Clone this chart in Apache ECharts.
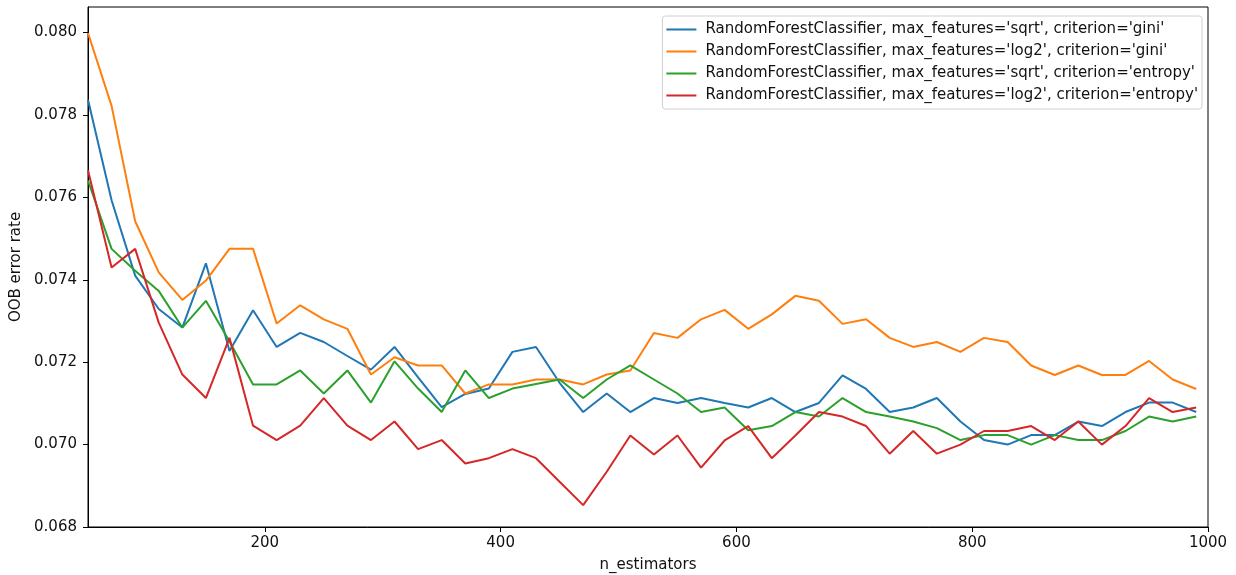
<!DOCTYPE html>
<html>
<head>
<meta charset="utf-8">
<script src="https://cdn.jsdelivr.net/npm/echarts@6/dist/echarts.min.js"></script>
<style>html,body{margin:0;padding:0;background:#fff;}#c{width:1236px;height:575px;}</style>
</head>
<body>
<div id="c"></div>
<script>
const nEstimators = [];
for (let n = 50; n <= 990; n += 20) nEstimators.push(n);

const seriesNames = [
  "RandomForestClassifier, max_features='sqrt', criterion='gini'",
  "RandomForestClassifier, max_features='log2', criterion='gini'",
  "RandomForestClassifier, max_features='sqrt', criterion='entropy'",
  "RandomForestClassifier, max_features='log2', criterion='entropy'"
];

const sqrtGini = [0.07837,0.07593,0.07410,0.07329,0.07284,0.07440,0.07227,0.07326,0.07237,0.07271,0.07249,0.07215,0.07182,
  0.07237,0.07163,0.07091,0.07123,0.07136,0.07225,0.07237,0.07150,0.07079,0.07124,0.07079,0.07113,
  0.07101,0.07113,0.07101,0.07090,0.07113,0.07079,0.07101,0.07168,0.07135,0.07079,0.07090,0.07113,
  0.07056,0.07011,0.07000,0.07023,0.07023,0.07056,0.07045,0.07079,0.07102,0.07102,0.07079];

const log2Gini = [0.07999,0.07822,0.07542,0.07418,0.07351,0.07398,0.07475,0.07475,0.07294,0.07338,0.07304,0.07281,0.07170,
  0.07212,0.07192,0.07192,0.07124,0.07146,0.07146,0.07158,0.07158,0.07146,0.07170,0.07180,0.07271,
  0.07259,0.07304,0.07327,0.07281,0.07316,0.07361,0.07349,0.07293,0.07304,0.07259,0.07237,0.07249,
  0.07225,0.07259,0.07249,0.07192,0.07169,0.07192,0.07169,0.07169,0.07203,0.07158,0.07135];

const sqrtEntropy = [0.07641,0.07475,0.07422,0.07373,0.07284,0.07349,0.07250,0.07146,0.07146,0.07180,0.07124,0.07180,0.07102,
  0.07202,0.07136,0.07079,0.07180,0.07113,0.07136,0.07147,0.07158,0.07113,0.07158,0.07192,0.07158,
  0.07124,0.07079,0.07090,0.07035,0.07045,0.07079,0.07068,0.07113,0.07079,0.07068,0.07056,0.07040,
  0.07011,0.07023,0.07023,0.07000,0.07023,0.07011,0.07011,0.07033,0.07068,0.07056,0.07068];

const log2Entropy = [0.07666,0.07430,0.07475,0.07296,0.07170,0.07113,0.07259,0.07046,0.07011,0.07046,0.07113,0.07046,0.07011,
  0.07056,0.06989,0.07011,0.06954,0.06967,0.06989,0.06967,0.06910,0.06853,0.06934,0.07022,0.06976,
  0.07022,0.06944,0.07010,0.07045,0.06967,0.07022,0.07079,0.07068,0.07045,0.06978,0.07033,0.06978,
  0.07000,0.07033,0.07033,0.07045,0.07011,0.07056,0.07000,0.07045,0.07113,0.07079,0.07090];

const xTicks = [200, 400, 600, 800, 1000];
const yTicks = [0.068, 0.070, 0.072, 0.074, 0.076, 0.078, 0.080];
const colors = ['#1f77b4', '#ff7f0e', '#2ca02c', '#d62728'];
const allValues = [sqrtGini, log2Gini, sqrtEntropy, log2Entropy];

const font = 'DejaVu Sans';
const chart = echarts.init(document.getElementById('c'), null, {renderer: 'canvas'});
chart.setOption({
  animation: false,
  color: colors,
  grid: {left: 88, right: 28, top: 7, bottom: 48, outerBoundsMode: 'none', containLabel: false,
    show: true, borderColor: '#000', borderWidth: 1, backgroundColor: 'transparent'},
  legend: {
    orient: 'vertical', right: 34, top: 16,
    data: seriesNames,
    icon: 'rect', itemWidth: 30, itemHeight: 2,
    itemGap: 5,
    padding: [5, 4, 5, 4],
    backgroundColor: '#fff', borderColor: '#d0d0d0', borderWidth: 1, borderRadius: 3,
    textStyle: {fontFamily: font, fontSize: 15, color: '#111', lineHeight: 17, padding: [0, 0, 0, 4]}
  },
  xAxis: {
    type: 'value', min: 50, max: 1000,
    name: 'n_estimators', nameLocation: 'middle', nameGap: 31,
    nameTextStyle: {fontFamily: font, fontSize: 15, color: '#111'},
    axisLine: {show: true, onZero: false, lineStyle: {color: '#000', width: 1}},
    axisTick: {show: true, length: 5, lineStyle: {color: '#000'}, customValues: xTicks},
    axisLabel: {fontFamily: font, fontSize: 15, color: '#111', margin: 9, customValues: xTicks,
      formatter: v => String(v)},
    splitLine: {show: false}
  },
  yAxis: {
    type: 'value', min: 0.068, max: 0.08062,
    name: 'OOB error rate', nameLocation: 'middle', nameGap: 56, nameRotate: 90,
    nameTextStyle: {fontFamily: font, fontSize: 15, color: '#111'},
    axisLine: {show: true, onZero: false, lineStyle: {color: '#000', width: 1}},
    axisTick: {show: true, length: 5, lineStyle: {color: '#000'}, customValues: yTicks},
    axisLabel: {fontFamily: font, fontSize: 15, color: '#111', margin: 11, customValues: yTicks,
      formatter: v => v.toFixed(3)},
    splitLine: {show: false}
  },
  series: seriesNames.map((name, i) => ({
    name: name, type: 'line', showSymbol: false, symbol: 'none',
    lineStyle: {width: 2, color: colors[i]},
    data: nEstimators.map((n, j) => [n, allValues[i][j]])
  }))
});
</script>
</body>
</html>
